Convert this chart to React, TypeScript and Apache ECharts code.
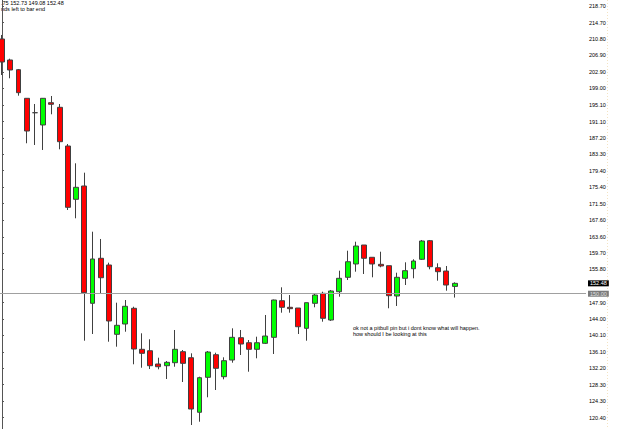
import React, { useEffect, useRef } from "react";
import * as echarts from "echarts";

const opens = [210.82, 205.81, 203.49, 196.66, 193.22, 190.29, 195.61, 194.51, 185.27, 172.54, 175.72, 147.71, 158.46, 156.86, 140.31, 142.77, 146.52, 136.73, 136.39, 133.22, 132.81, 133.53, 136.16, 134.72, 121.69, 130.04, 135.44, 130.19, 134.17, 139.5, 138.3, 136.73, 138.16, 139.59, 148.33, 146.76, 146.59, 141.74, 147.71, 150.1, 143.72, 150.48, 153.92, 157.1, 161.63, 158.7, 157.02, 156.69, 149.45, 153.68, 155.97, 158.22, 162.66, 156.21, 155.42, 151.75];
const closes = [205.33, 203.42, 198.0, 188.85, 193.22, 196.66, 195.23, 186.3, 170.63, 175.41, 150.24, 158.29, 153.82, 143.49, 142.46, 147.0, 136.8, 135.77, 132.81, 132.57, 133.62, 136.73, 133.38, 122.47, 129.95, 136.08, 132.19, 134.01, 139.59, 137.99, 136.73, 138.3, 139.9, 148.5, 146.76, 146.43, 142.12, 147.86, 149.69, 144.13, 150.65, 153.68, 157.64, 161.39, 158.46, 157.1, 156.62, 149.53, 153.92, 155.5, 157.81, 162.59, 156.45, 155.26, 152.08, 152.48];
const lows = [202.22, 201.44, 197.28, 185.92, 185.51, 184.32, 192.84, 184.48, 169.99, 168.01, 138.78, 140.38, 150.1, 138.54, 137.35, 140.93, 133.15, 132.33, 132.02, 131.95, 129.64, 132.57, 128.92, 118.65, 119.44, 125.27, 127.01, 129.56, 133.53, 135.37, 131.38, 134.58, 137.99, 135.61, 145.47, 145.47, 140.38, 138.78, 146.76, 143.32, 143.5, 149.29, 153.27, 155.26, 154.71, 153.92, 156.31, 146.52, 147.07, 152.08, 153.68, 158.05, 155.83, 153.11, 150.72, 149.08];
const highs = [211.78, 206.12, 203.66, 196.73, 195.3, 196.73, 197.21, 195.3, 185.75, 181.14, 178.9, 164.81, 163.07, 157.41, 147.86, 148.5, 146.9, 140.55, 139.12, 134.72, 133.93, 141.34, 136.56, 135.77, 130.19, 136.32, 135.92, 134.82, 141.74, 141.34, 138.95, 139.74, 144.92, 148.6, 151.53, 149.69, 146.59, 147.86, 150.1, 150.48, 150.89, 155.5, 160.27, 162.42, 161.63, 158.7, 160.03, 156.69, 155.02, 157.5, 158.22, 162.83, 162.83, 157.26, 156.62, 152.73];

const tickValues = [218.7, 214.7, 210.8, 206.9, 202.9, 199.0, 195.1, 191.1, 187.2, 183.3, 179.4, 175.4, 171.5, 167.6, 163.6, 159.7, 155.8, 147.9, 144.0, 140.1, 136.1, 132.2, 128.3, 124.3, 120.4];

const levelLine = 150.0;
const bidPrice = 152.48;
const headerLine1 = ".75 152.73 149.08 152.48";
const headerLine2 = "nds left to bar end";
const noteLine1 = "ok not a pitbull pin but i dont know what will happen.";
const noteLine2 = "how should I be looking at this";

const FONT = "'Liberation Sans', Arial, sans-serif";

export default function App() {
  const ref = useRef<HTMLDivElement>(null);
  useEffect(() => {
    if (!ref.current) return;
    const chart = echarts.init(ref.current, undefined, { renderer: "svg" });
    const data = opens.map((o, i) => [i, o, closes[i], lows[i], highs[i]]);
    chart.setOption({
      animation: false,
      backgroundColor: "#ffffff",
      grid: { left: 0, right: 39, top: 0, bottom: 0, containLabel: false },
      xAxis: {
        type: "value",
        min: -0.243,
        max: 70.96,
        show: false,
        splitLine: { show: false },
      },
      yAxis: {
        type: "value",
        position: "right",
        min: 117.7,
        max: 220.13,
        scale: true,
        splitLine: { show: false },
        axisLine: { show: true, lineStyle: { color: "#555555", width: 1 } },
        axisTick: {
          show: true,
          length: 2,
          customValues: tickValues,
          lineStyle: { color: "#555555" },
        },
        axisLabel: {
          customValues: tickValues,
          formatter: (v: number) => v.toFixed(2),
          fontSize: 5.5,
          fontFamily: FONT,
          color: "#000000",
          margin: 3,
        },
      },
      series: [
        {
          type: "candlestick",
          data,
          encode: { x: 0, y: [1, 2, 3, 4] },
          barWidth: 5.4,
          itemStyle: {
            color: "#00ff00",
            color0: "#ff0000",
            borderColor: "#404040",
            borderColor0: "#404040",
            borderWidth: 1,
          },
          markLine: {
            silent: true,
            symbol: "none",
            animation: false,
            data: [
              {
                yAxis: levelLine,
                lineStyle: { color: "#a0a0a0", width: 1, type: "solid" },
                label: {
                  show: true,
                  position: "end",
                  distance: 2,
                  formatter: levelLine.toFixed(2),
                  fontSize: 5.5,
                  fontFamily: FONT,
                  color: "#e0e0e0",
                  backgroundColor: "#7a7a7a",
                  padding: [0, 2, 0, 2],
                },
              },
              {
                yAxis: bidPrice,
                lineStyle: { color: "rgba(0,0,0,0)", width: 0 },
                label: {
                  show: true,
                  position: "end",
                  distance: 2,
                  formatter: bidPrice.toFixed(2),
                  fontSize: 5.5,
                  fontFamily: FONT,
                  color: "#ffffff",
                  backgroundColor: "#000000",
                  padding: [0, 2, 0, 2],
                },
              },
            ],
          },
        },
      ],
      graphic: [
        {
          type: "line",
          silent: true,
          shape: { x1: 607.5, y1: 0, x2: 607.5, y2: 429 },
          style: { stroke: "#f3e3c3", lineWidth: 1, lineDash: [1, 2] },
        },
        {
          type: "text",
          x: 1,
          y: 3,
          style: { text: headerLine1, fontSize: 5.5, fontFamily: FONT, fill: "#000000", textVerticalAlign: "middle" },
        },
        {
          type: "text",
          x: 1,
          y: 8.5,
          style: { text: headerLine2, fontSize: 5.5, fontFamily: FONT, fill: "#000000", textVerticalAlign: "middle" },
        },
        {
          type: "text",
          x: 353,
          y: 327.5,
          style: { text: noteLine1, fontSize: 5.5, fontFamily: FONT, fill: "#000000", textVerticalAlign: "middle" },
        },
        {
          type: "text",
          x: 353,
          y: 334,
          style: { text: noteLine2, fontSize: 5.5, fontFamily: FONT, fill: "#000000", textVerticalAlign: "middle" },
        },
      ],
    });
    return () => chart.dispose();
  }, []);
  return (
    <div
      ref={ref}
      style={{ position: "fixed", left: 0, top: 0, width: 625, height: 429, background: "#ffffff" }}
    />
  );
}
